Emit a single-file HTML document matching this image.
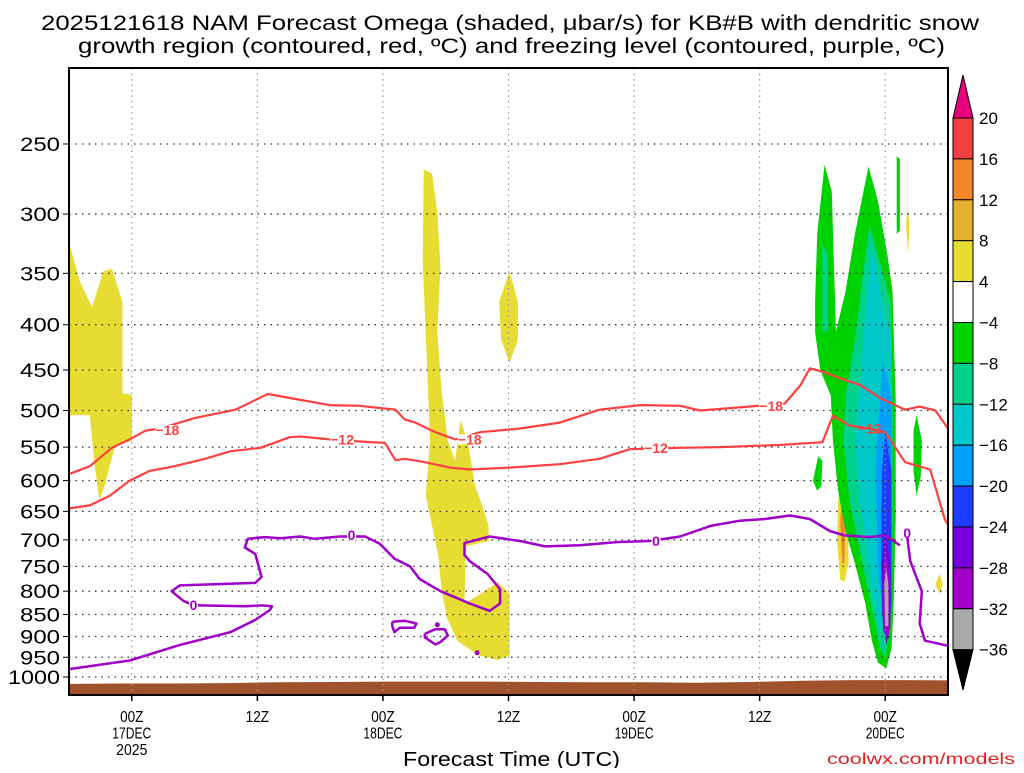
<!DOCTYPE html>
<html><head><meta charset="utf-8"><style>
body{margin:0;background:#fff;width:1024px;height:768px;overflow:hidden}
svg{font-family:"Liberation Sans",sans-serif}
</style></head><body>
<svg id="chart" width="1024" height="768" viewBox="0 0 1024 768" xmlns="http://www.w3.org/2000/svg">
<text x="41" y="30" textLength="938" lengthAdjust="spacingAndGlyphs" font-size="21" fill="#000">2025121618 NAM Forecast Omega (shaded, μbar/s) for KB#B with dendritic snow</text>
<text x="78" y="53" textLength="867" lengthAdjust="spacingAndGlyphs" font-size="21" fill="#000">growth region (contoured, red, ºC) and freezing level (contoured, purple, ºC)</text>
<g id="plot"></g>
<g id="cbar"></g>
<text x="403" y="766" textLength="217" lengthAdjust="spacingAndGlyphs" font-size="20" fill="#000">Forecast Time (UTC)</text>
<text x="1015" y="764" text-anchor="end" textLength="188" lengthAdjust="spacingAndGlyphs" font-size="16" fill="#e02020">coolwx.com/models</text>
</svg>
<script>
const NS="http://www.w3.org/2000/svg";
// ---- data ----
const pressureTicks=[250,300,350,400,450,500,550,600,650,700,750,800,850,900,950,1000];
const timeTickHours=[6,18,30,42,54,66,78];
const timeTickLabels=[["00Z","17DEC","2025"],["12Z"],["00Z","18DEC"],["12Z"],["00Z","19DEC"],["12Z"],["00Z","20DEC"]];
const terrainHours=[0,5,10,15,20,25,30,35,40,45,50,55,60,65,70,75,80,84];
const terrainPressure=[1018,1017,1017,1016,1014,1013,1012,1012,1012,1013,1014,1014,1015,1013,1010,1008,1008,1009];
const minus18Line=[[0,590],[2,578],[4.1,551],[5.8,539],[7.3,527],[8.7,524],[12,510],[15.9,499],[19,479],[21.1,484],[24.9,493],[27.8,494],[31.2,499],[32.1,512],[33.1,516],[35,529],[36.9,539],[39.3,529],[43.1,524],[46.9,516],[50.7,499],[54.6,493],[58.4,494],[60.3,500],[64.1,496],[68.4,491],[69.9,468],[70.8,448],[72,452],[73.7,460],[75.6,468],[77.5,484],[79.9,499],[81.3,495],[82.8,500],[84,524]];
const minus18Labels=[[9.4,526],[38.3,539],[67.1,494]];
const minus12Line=[[0,645],[2,640],[3.9,624],[5.8,600],[7.7,585],[10.1,578],[13,567],[15.4,556],[18.3,551],[21.1,536],[22.1,535],[24.9,539],[27.8,542],[30.2,544],[31.2,569],[32.1,567],[34,572],[36.4,580],[38.3,583],[42.1,580],[46.9,575],[50.7,567],[53.6,553],[58.4,551],[62.2,550],[67.9,547],[72,543],[73,507],[74.6,520],[76.5,524],[78,529],[79.9,572],[82.3,583],[83.7,664],[84,672]];
const minus12Labels=[[26.1,539],[56.1,551],[76.5,524]];
const zeroLine=[[0,980],[5.8,958],[10.6,920],[15.4,890],[17.8,862],[19.2,840],[19.4,832],[18.4,830],[16.8,832],[12.5,830],[11.9,830],[10.9,820],[9.8,800],[10.6,788],[13.5,786],[17.8,783],[18.4,771],[17.8,726],[16.8,714],[17.1,698],[18.7,695],[20.2,697],[22.1,694],[23.5,698],[25.9,694],[28.3,694],[29.7,707],[31.1,735],[32.6,750],[33.5,775],[35.5,800],[38.3,826],[40.2,842],[41.2,826],[41.2,796],[40,765],[38.3,740],[37.8,728],[37.8,706],[40.2,694],[43.1,702],[45.5,712],[48.8,710],[52.5,704],[55.5,702],[58.4,694],[61.3,675],[64.1,666],[66.5,663],[68.9,657],[70.8,663],[72.7,684],[74.1,692],[76.5,695],[78,692],[79.4,710]];
const zeroLine2=[[80.1,695],[80.4,740],[81.5,800],[81.3,870],[81.8,910],[84,922]];
const zeroLoop1=[[30.9,866],[32.1,864],[33.2,870],[33,880],[31.6,880],[31.1,890],[30.9,876],[30.9,866]];
const zeroLoop2=[[34,894],[35,883],[35.9,883],[36.2,898],[35.5,913],[35,919],[34,902],[34,894]];
const zeroDots=[[35.2,873],[39,939]];
const zeroLabels=[[11.9,829],[27,691],[56.1,702],[80.1,688]];
const omegaLevels=[20,16,12,8,4,-4,-8,-12,-16,-20,-24,-28,-32,-36];
const omegaColors=["#f04040","#f0882a","#e6b030","#e6dc32","#ffffff","#00d200","#00d28c","#00c8c8","#00a0ff","#1e3cff","#7800dc","#a000c8","#aaaaaa"];
const yellowA=[[0,323],[1.05,358],[2.2,382],[3.3,348],[4.1,346],[5.1,377],[5.1,478],[6,480],[6,541],[4.4,548],[3.4,608],[2.9,632],[2.4,570],[2,506],[0,506]];
const yellowB=[[33.9,267],[34.7,270],[35.2,298],[35.5,344],[35.2,407],[35.6,474],[36.2,541],[36.9,570],[37.4,513],[38.1,541],[38.8,608],[39.5,641],[40.1,675],[40.1,702],[37.9,712],[37.8,826],[39.3,806],[41,781],[42.1,806],[42.1,945],[41,957],[39.1,945],[37.1,910],[36.1,856],[35.6,796],[35.3,731],[34.5,657],[34.1,624],[34.5,541],[34.2,439],[33.8,340]];
const yellowC=[[42.1,348],[42.9,377],[42.9,416],[42.1,442],[41.3,416],[41.1,377]];
const yellowD=[[80.1,294],[80.3,306],[80.2,333],[80,310]];
const yellowE=[[83.2,765],[83.5,786],[83.2,806],[82.8,786]];
const yellowF=[[73.9,603],[74.4,632],[74.5,744],[74.1,781],[73.7,776],[73.4,702],[73.5,632]];
const orangeF=[[73.9,624],[74.2,666],[74.1,744],[73.9,744],[73.7,666]];
const greenMain=[[71.3,377],[71.5,316],[72.2,264],[72.9,283],[73.1,341],[73.3,407],[74.2,367],[75.1,316],[76.4,265],[77.3,290],[78.2,333],[78.7,367],[79,487],[79,666],[78.8,826],[78.6,928],[78.1,978],[77.3,963],[76.7,907],[76.1,826],[75.1,744],[74.2,684],[73.5,616],[73,541],[72.8,481],[71.8,450],[71.3,408]];
const greenB=[[71.6,563],[72,570],[71.9,608],[71.5,616],[71.1,600]];
const greenC=[[81,506],[81.5,541],[81.4,593],[81,624],[80.7,585],[80.7,527]];
const greenD=[[79.1,258],[79.4,260],[79.4,313],[79.1,316]];
const tealA=[[72,325],[72.5,333],[72.5,407],[72,407]];
const tealMain=[[76.5,309],[77.5,341],[78.5,377],[78.7,487],[78.7,744],[78.5,866],[78,950],[77.5,928],[76.8,846],[75.8,744],[74.6,632],[74,541],[74.2,481],[75.1,417],[75.8,356]];
const cyanMain=[[76.7,325],[77.7,377],[78.6,417],[78.6,632],[78.5,826],[78.1,907],[77.3,866],[76.4,744],[75.6,632],[75.1,541],[75.6,464],[76.2,377]];
const lblueMain=[[77.8,439],[78.6,487],[78.6,744],[78.3,866],[77.8,866],[77.3,744],[77.1,585],[77.4,506]];
const blueMain=[[78,527],[78.6,585],[78.6,826],[78.3,907],[77.8,887],[77.6,744],[77.7,585]];
const purpleMain=[[78,684],[78.5,744],[78.5,876],[78.1,919],[77.7,846],[77.7,744]];
const magentaMain=[[78,722],[78.4,776],[78.4,886],[78.1,907],[77.8,876],[77.8,776]];
const grayMain=[[78.1,754],[78.3,786],[78.3,876],[78,876],[77.9,786]];
const shaded=[[3,yellowA,"yellow-region-a"],[3,yellowB,"yellow-region-b"],[3,yellowC,"yellow-region-c"],[3,yellowD,"yellow-region-d"],[3,yellowE,"yellow-region-e"],[3,yellowF,"yellow-region-f"],[1,orangeF,"orange-core"],[5,greenMain,"green-region-main"],[5,greenB,"green-region-b"],[5,greenC,"green-region-c"],[5,greenD,"green-region-d"],[6,tealA,"teal-region-a"],[6,tealMain,"teal-region-main"],[7,cyanMain,"cyan-region"],[8,lblueMain,"lightblue-region"],[9,blueMain,"blue-region"],[10,purpleMain,"purple-region"],[11,magentaMain,"magenta-region"],[12,grayMain,"gray-region"]];
// ---- axes ----
const L=69,R=948,T=68,B=695,HMAX=84;
function X(h){return L+h*(R-L)/HMAX;}
function Y(p){return 677-384.5*Math.log(1000/p);}
function mk(tag,attrs,parent){const e=document.createElementNS(NS,tag);for(const k in attrs)e.setAttribute(k,attrs[k]);parent.appendChild(e);return e;}
const plot=document.getElementById('plot');
const cl=mk('clipPath',{id:'clip'},plot);mk('rect',{x:L,y:T,width:R-L,height:B-T},cl);
const inner=mk('g',{'clip-path':'url(#clip)'},plot);
function pts(a){return a.map(d=>X(d[0]).toFixed(1)+','+Y(d[1]).toFixed(1)).join(' ');}
shaded.forEach(s=>{
  const e=mk('polygon',{points:pts(s[1]),fill:omegaColors[s[0]]},inner);
  
  
});
const tp=terrainHours.map((h,i)=>[h,terrainPressure[i]]);
const terr=mk('polygon',{points:pts(tp)+' '+X(HMAX)+','+B+' '+X(0)+','+B,fill:'#a0522d'},inner);


pressureTicks.forEach(p=>{
  const g=mk('line',{x1:L,x2:R,y1:Y(p),y2:Y(p),stroke:'#333','stroke-width':1.3,'stroke-dasharray':'1.5 5'},inner);
  
  
  const w=p>=1000?52:40;
  const t=mk('text',{x:60-w,y:Y(p)+7,textLength:w,lengthAdjust:'spacingAndGlyphs','font-size':19,fill:'#000'},plot);
  t.textContent=p;
  
  
  mk('line',{x1:L-6,x2:L,y1:Y(p),y2:Y(p),stroke:'#000','stroke-width':1},plot);
});
timeTickHours.forEach((h,i)=>{
  const g=mk('line',{x1:X(h),x2:X(h),y1:T,y2:B,stroke:'#999','stroke-width':1.2,'stroke-dasharray':'1.5 4'},inner);
  
  
  mk('line',{x1:X(h),x2:X(h),y1:B,y2:B+6,stroke:'#000','stroke-width':1.5},plot);
  timeTickLabels[i].forEach((s,j)=>{
    const w=s.length*7.8;
    const t=mk('text',{x:X(h)-w/2,y:722+j*16.5,textLength:w,lengthAdjust:'spacingAndGlyphs','font-size':16,fill:'#000'},plot);
    t.textContent=s;
    
    
  });
});
function line(a,color,name,w){const e=mk('polyline',{points:pts(a),fill:'none',stroke:color,'stroke-width':w,'stroke-linejoin':'round'},inner);
  
  }
line(minus18Line,'#ff4040','contour-minus18',2.2);
line(minus12Line,'#ff4040','contour-minus12',2.2);
line(zeroLine,'#a000c8','freezing-level-line',2.5);
line(zeroLine2,'#a000c8','freezing-level-line-2',2.5);
line(zeroLoop1,'#a000c8','freezing-level-loop-1',2.5);
line(zeroLoop2,'#a000c8','freezing-level-loop-2',2.5);
zeroDots.forEach(d=>{const e=mk('circle',{cx:X(d[0]),cy:Y(d[1]),r:2.5,fill:'#a000c8'},inner);
  
  });
function labels(arr,txt,color,w){arr.forEach(d=>{const x=X(d[0]),y=Y(d[1]);
  if(x<800) mk('rect',{x:x-w/2,y:y-5,width:w,height:10,fill:'#fff'},inner);
  const t=mk('text',{x:x,y:y+5,'text-anchor':'middle','font-size':14,'font-weight':'bold',fill:color},inner);
  t.textContent=txt;
  
  });}
labels(minus18Labels,'−18','#ff4040',24);
labels(minus12Labels,'−12','#ff4040',24);
labels(zeroLabels,'0','#a000c8',9);
mk('rect',{x:L,y:T,width:R-L,height:B-T,fill:'none',stroke:'#000','stroke-width':2},plot);
const cb=document.getElementById('cbar');
const CX=953,CW=20,C0=118,CH=40.9;
omegaColors.forEach((c,i)=>{
  const r=mk('rect',{x:CX,y:C0+i*CH,width:CW,height:CH,fill:c,stroke:'#000','stroke-width':1},cb);
  
  
});
const cbTop=mk('polygon',{points:`${CX},${C0} ${CX+CW},${C0} ${CX+CW/2},75`,fill:'#e8007d',stroke:'#000'},cb);


const cbBot=mk('polygon',{points:`${CX},${C0+13*CH} ${CX+CW},${C0+13*CH} ${CX+CW/2},690`,fill:'#000',stroke:'#000'},cb);


omegaLevels.forEach((v,i)=>{
  const t=mk('text',{x:979,y:C0+i*CH+6,'font-size':17,fill:'#000'},cb);
  t.textContent=v<0?'−'+(-v):v;
  
  
});
</script>
</body></html>
